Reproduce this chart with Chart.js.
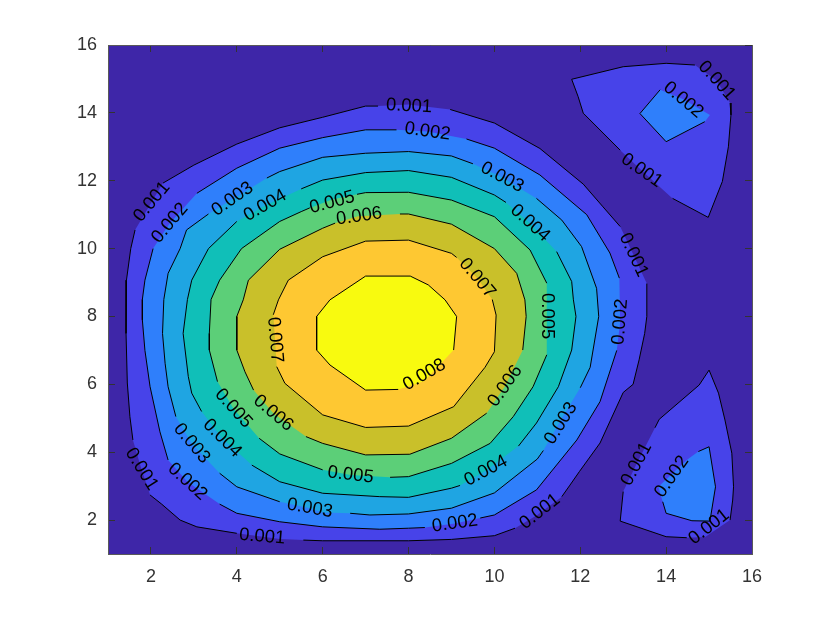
<!DOCTYPE html>
<html>
<head>
<meta charset="utf-8">
<style>html,body{margin:0;padding:0;background:#fff}canvas{display:block}</style>
<script src="https://cdn.jsdelivr.net/npm/chart.js@4"></script>
</head>
<body>
<canvas id="c" width="830" height="623"></canvas>
<script>
// Each row: [x, y] or [x, y, 1]; the 1 means the contour line is interrupted (a label sits there) on the way to this point.
const axisTicks = [2,4,6,8,10,12,14,16];
const levelBase = [[1,1],[16,1],[16,16],[1,16]];
const c001Main = [[7,14.2],[6,13.87],[5,13.56],[4,13.08],[3,12.46],[2.28,11.93],[2.02,11.38,1],[1.63,10.55,1],[1.53,10],[1.43,9.07],[1.42,8.5],[1.42,7.5],[1.45,6.04],[1.51,5.05],[1.58,4.36],[1.78,3.5,1],[1.98,2.74,1],[2.25,2.47],[2.68,2],[3.07,1.8],[4,1.61],[5,1.44,1],[5.55,1.41,1],[6,1.39],[8,1.39],[9,1.43],[10,1.54],[10.48,1.76],[11,2.15,1],[11.57,2.69,1],[11.76,3.03],[11.98,3.43],[12.46,4.27],[13,5.76],[13.23,6],[13.37,6.72],[13.5,7.5],[13.55,8],[13.55,8.97],[13.24,9.81,1],[12.93,10.65,1],[12.53,11.23],[12.07,11.9],[11.06,12.95],[10,13.7],[8.97,14.1],[8,14.25,1],[7.29,14.2,1]];
const c001TopRight = [[11.8,14.99],[13,15.36],[14,15.46],[14.67,15.41],[15.18,14.95,1],[15.49,14.29,1],[15.51,13.94],[15.45,13],[15.31,11.98],[14.98,10.92],[14.15,11.48],[13.43,12.3,1],[12.93,12.9,1],[12.07,13.99],[11.95,14.48]];
const c001BottomRight = [[15,6.42],[14.77,5.98],[13.84,4.97],[13.74,4.72],[13.31,3.65,1],[13,2.84,1],[12.93,1.97],[14,1.51],[14.48,1.48],[14.91,1.5,1],[15.49,2,1],[15.55,2.59],[15.57,2.98],[15.53,3.97],[15.37,4.95],[15.22,5.74]];
const c002Main = [[7,13.5],[6,13.27],[5,12.96],[4,12.37],[3.07,11.63],[2.44,10.75,1],[2.05,10,1],[1.86,9.07],[1.8,8.5],[1.8,7.9],[1.86,7],[1.98,5.93],[2.21,4.6],[2.4,3.77],[2.85,3.13,1],[3.6,2.47,1],[4,2.2],[5,1.95],[6,1.8],[7.33,1.73],[8,1.76],[8.38,1.78],[9.08,1.9,1],[9.67,2.06,1],[10,2.15],[10.98,2.89],[11.92,4.36],[12.46,5.49],[12.85,7],[12.93,7.84,1],[12.91,9.13,1],[12.69,9.87],[12.15,11],[11.06,12.17],[10,12.96],[9.35,13.23],[8.44,13.45,1],[7.72,13.5,1]];
const c002TopRight = [[13.86,14.68,1],[13.39,13.98],[14,13.15],[14.9,13.74],[15.02,13.94,1],[14.4,14.4,1]];
const c002BottomRight = [[15,4.16],[15.15,2.98],[15.02,1.97],[14.6,1.98],[14,2.2],[13.92,2.54],[13.82,2.98,1],[14.48,3.77,1],[14.75,4.02,1]];
const c003 = [[7,12.81],[6,12.69],[5,12.27],[4.7,12.08],[4,11.53,1],[3.9,11.46,1],[3.34,11.02,1],[2.83,10.55],[2.68,10],[2.4,9.27],[2.3,8.5],[2.27,7.5],[2.33,6.62],[2.4,5.93],[2.58,5.05],[2.95,4.26,1],[3.6,3.38,1],[4,2.98],[5,2.54],[5.7,2.35,1],[6,2.22,1],[6.64,2.2,1],[7.1,2.15],[8,2.18],[9,2.35],[10,2.8],[11,3.8],[11.14,4.05],[11.57,5,1],[12,5.9,1],[12.23,6.5],[12.43,8],[12.38,8.83],[12.03,10.06],[11.57,10.84],[10.98,11.48],[10.18,12.1,1],[9.5,12.5,1],[9,12.73],[8,12.86]];
const c004 = [[7,12.24],[6,12.02],[5.5,11.76],[4.66,11.27,1],[4,10.8,1],[3.34,10],[2.95,9.07],[2.85,8.5],[2.75,7.5],[2.87,6.23],[2.95,5.74],[3.18,5.2],[3.66,4.41,1],[4.35,3.62,1],[5,3.13],[6,2.79],[7.33,2.69],[8,2.67],[9,2.94],[9.2,3.02],[9.8,3.45,1],[10.56,4.18,1],[10.98,4.86],[11.49,5.93],[11.8,7.01],[11.9,8],[11.84,8.49],[11.8,9.03],[11.45,9.91],[10.83,10.75,1],[10.27,11.36,1],[10,11.58],[9,12.1],[8,12.3]];
const c005 = [[7,11.65],[6.8,11.6],[6.22,11.45,1],[5.7,11.2,1],[5.5,11.09],[5,10.8],[4.11,10],[3.6,9.07],[3.4,8.5],[3.36,7.5],[3.36,7.01],[3.55,6.08],[3.92,5.29,1],[4.52,4.41,1],[5,3.95],[6,3.48],[6.65,3.33,1],[7.57,3.26,1],[8,3.28],[9,3.67],[9.9,4.26],[10.44,5.05],[10.9,5.93],[11.22,6.87],[11.22,8,1],[11.22,8.98,1],[10.83,9.96],[10,10.94],[9,11.43],[8,11.66]];
const c006 = [[6.82,10.95,1],[6.29,10.75,1],[6,10.6],[5,9.98],[4.27,9.07],[4.15,8.49],[4,8],[4,7.01],[4.19,6.37],[4.39,5.83],[4.85,5.15,1],[5.61,4.46,1],[6,4.26],[7,3.92],[8.03,3.94],[9,4.41],[9.82,5.15],[10.25,5.95,1],[10.66,7.01,1],[10.74,8],[10.71,8.49],[10.52,9.27],[10,10],[9,10.72],[8,11.02],[7.8,11.02]];
const c007 = [[7,10.22],[6,9.76],[5.2,9.07],[4.97,8.49],[4.85,8.05],[4.89,7.31,1],[4.93,6.52,1],[5.12,6.03],[6,5.1],[7,4.73],[8,4.77],[9.05,5.34],[9.78,6.5],[10,6.96],[10.04,8.04],[9.95,8.5],[9.6,9.13,1],[9.12,9.74,1],[9,9.86],[8,10.25]];
const c008 = [[7,9.19],[6.17,8.49],[5.86,8],[5.86,7.01],[6.17,6.57],[7,5.83],[7.76,5.85],[8.37,6.1,1],[9.05,7.01,1],[9.12,8],[8.85,8.49],[8.46,8.93],[8.04,9.19]];

const levelColors = ['#3e26a8','#4743e9','#2f7ffb','#1fa5e2','#10bfb8','#5ccf78','#c9c02a','#fec832','#f8fa0f'];
const labelText = ['0.001','0.002','0.003','0.004','0.007','0.001','0.005','0.002','0.001','0.002','0.003','0.004','0.005','0.006','0.007','0.005','0.006','0.003','0.004','0.001','0.002','0.005','0.003','0.001','0.008','0.006','0.003','0.004','0.002','0.001','0.001','0.002','0.001','0.001','0.002','0.001'];
const labelX = [8.01,8.44,10.18,10.83,9.6,13.24,11.22,12.93,2.02,2.44,3.9,4.66,6.22,6.85,4.89,3.92,4.85,2.95,3.66,1.78,2.85,6.65,5.7,4.59,8.37,10.25,11.55,9.8,9.08,11.06,15.18,14.4,13.43,13.31,14.13,15];
const labelY = [14.2,13.45,12.1,10.75,9.13,9.81,8.01,7.84,11.38,10.75,11.46,11.27,11.36,10.95,7.31,5.29,5.15,4.26,4.41,3.5,3.13,3.33,2.35,1.51,6.28,5.95,4.85,3.45,1.9,2.25,14.95,14.38,12.3,3.65,3.28,1.8];
const labelAngle = [3,8,28,42,50,65,90,-85,-50,-50,-35,-30,-15,-8,85,48,40,50,45,58,42,7,10,5,-30,-55,-58,-28,-8,-38,48,40,35,-62,-55,-38];

const rings = [
  [levelBase,0,false],
  [c001Main,1,true],[c001TopRight,1,true],[c001BottomRight,1,true],
  [c002Main,2,true],[c002TopRight,2,true],[c002BottomRight,2,true],
  [c003,3,true],[c004,4,true],[c005,5,true],[c006,6,true],[c007,7,true],[c008,8,true]
];
const datasets = [];
let order = 100;
for (const [ring, lvl, stroke] of rings) {
  const closed = ring.concat([ring[0]]).map(r => ({x:r[0], y:r[1], up:r[2]===1}));
  datasets.push({data:closed, showLine:true, fill:'shape', backgroundColor:levelColors[lvl], borderWidth:0, borderColor:'rgba(0,0,0,0)', pointRadius:0, order:order--});
  if (stroke) datasets.push({data:closed, showLine:true, fill:false, borderWidth:1, borderColor:'#000', pointRadius:0, order:order--,
    segment:{borderColor:c => c.p1.raw.up ? 'rgba(0,0,0,0)' : '#000'}});
}
const contourLabels = {
  id:'contourLabels',
  afterDatasetsDraw(chart){
    const {ctx, scales:{x,y}} = chart;
    ctx.save();
    ctx.font = '18.4px "Liberation Sans"';
    ctx.fillStyle = '#000';
    ctx.textAlign = 'center';
    ctx.textBaseline = 'middle';
    labelText.forEach((t,i)=>{
      ctx.save();
      ctx.translate(x.getPixelForValue(labelX[i]), y.getPixelForValue(labelY[i]));
      ctx.rotate(labelAngle[i]*Math.PI/180);
      ctx.fillText(t,0,0);
      ctx.restore();
    });
    ctx.restore();
  }
};
const tickInk = '#333333';
const boxInk = '#595959';
function axis(position, size, showLabels, pad){
  return {
    type:'linear', position, min: 1, max: 16,
    afterBuildTicks(s){ s.ticks = axisTicks.map(v=>({value:v})); },
    afterFit(s){ if (position==='top'||position==='bottom') s.height=size; else s.width=size; },
    grid:{drawOnChartArea:false, drawTicks:true, tickLength:-7, tickColor:tickInk, lineWidth:1, z:1},
    border:{display:true, color:boxInk, width:1, z:1},
    ticks:{display:showLabels, color:tickInk, padding:pad, maxRotation:0, autoSkip:false, font:{family:'"Liberation Sans"', size:18}}
  };
}
new Chart(document.getElementById('c'),{
  type:'scatter',
  data:{datasets},
  options:{
    responsive:false, animation:false, events:[],
    layout:{padding:0},
    plugins:{legend:{display:false},tooltip:{enabled:false},title:{display:false}},
    scales:{
      x:axis('bottom',69,true,19),
      y:axis('left',108,true,18),
      x2:axis('top',45,false,0),
      y2:axis('right',78,false,0)
    }
  },
  plugins:[contourLabels]
});
</script>
</body>
</html>
